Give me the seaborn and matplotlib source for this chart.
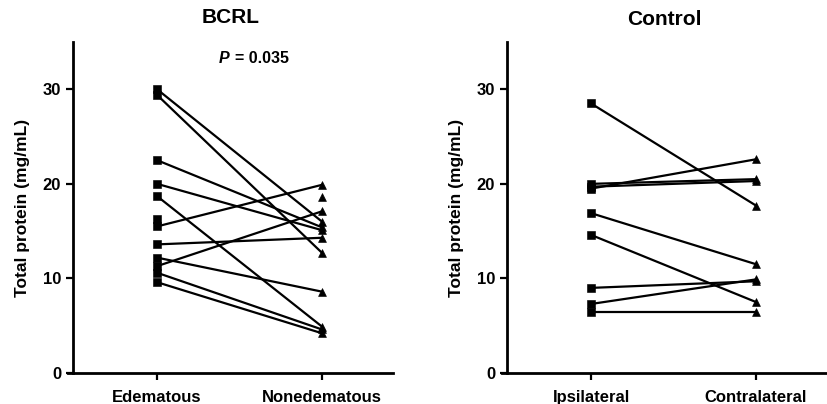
import pandas as pd
import numpy as np
import matplotlib.pyplot as plt
import seaborn as sns

# DATA
bcrl_labels = ["Edematous", "Nonedematous"]
bcrl_edem = [30.0, 29.4, 22.5, 20.0, 18.7, 15.5, 13.6, 12.2, 11.3, 10.6, 9.6]
bcrl_nonedem = [16.0, 12.7, 15.4, 15.1, 4.9, 19.9, 14.3, 8.6, 17.1, 4.6, 4.2]
bcrl_edem_only = [16.3]       # square without a partner
bcrl_nonedem_only = [18.6]    # triangle without a partner

ctrl_labels = ["Ipsilateral", "Contralateral"]
ctrl_ipsi = [28.5, 20.0, 19.7, 19.5, 16.9, 14.6, 9.0, 7.3, 6.5]
ctrl_contra = [17.7, 20.5, 20.3, 22.6, 11.5, 7.5, 9.7, 9.9, 6.5]

p_text = "= 0.035"


def long_table(a, b):
    rows = []
    for i, (v1, v2) in enumerate(zip(a, b)):
        rows.append({"pair": i, "cond": 0, "val": v1})
        rows.append({"pair": i, "cond": 1, "val": v2})
    return pd.DataFrame(rows)


sns.set_style("ticks", {"text.color": "black", "axes.labelcolor": "black",
                        "xtick.color": "black", "ytick.color": "black",
                        "axes.edgecolor": "black"})
plt.rcParams['font.family'] = ['Liberation Sans', 'DejaVu Sans']

fig = plt.figure(figsize=(8.28, 4.04), dpi=100)
ax1 = fig.add_axes([68 / 828, 31 / 404, 325 / 828, 331 / 404])
ax2 = fig.add_axes([502 / 828, 31 / 404, 325 / 828, 331 / 404])


def draw(ax, a, b, labels, only_a=(), only_b=()):
    df = long_table(a, b)
    sns.lineplot(data=df, x="cond", y="val", units="pair", estimator=None,
                 color="black", lw=1.6, ax=ax, legend=False)
    pts_a = list(a) + list(only_a)
    pts_b = list(b) + list(only_b)
    sns.scatterplot(x=[0] * len(pts_a), y=pts_a, marker="s", s=28,
                    color="black", edgecolor="black", ax=ax, zorder=3)
    sns.scatterplot(x=[1] * len(pts_b), y=pts_b, marker="^", s=32,
                    color="black", edgecolor="black", ax=ax, zorder=3)
    ax.set_xlim(-0.54, 1.43)
    ax.set_ylim(0, 35)
    ax.spines['left'].set_position(('data', -0.51))
    ax.spines['left'].set_linewidth(2)
    ax.spines['bottom'].set_linewidth(2)
    ax.spines['left'].set_bounds(0, 35)
    sns.despine(ax=ax)
    ax.set_yticks([0, 10, 20, 30])
    ax.set_xticks([0, 1])
    ax.set_xticklabels(labels)
    ax.tick_params(axis='both', width=1.6, length=5, labelsize=12, colors="black")
    ax.tick_params(axis='x', pad=7)
    for t in ax.get_xticklabels() + ax.get_yticklabels():
        t.set_fontweight('bold')
    ax.set_xlabel("")
    ax.set_ylabel("Total protein (mg/mL)", fontsize=12.5, fontweight='bold',
                  labelpad=9, color="black")


draw(ax1, bcrl_edem, bcrl_nonedem, bcrl_labels, bcrl_edem_only, bcrl_nonedem_only)
draw(ax2, ctrl_ipsi, ctrl_contra, ctrl_labels)

ax1.set_title("BCRL", fontsize=15, fontweight='bold', pad=14, color="black")
ax2.set_title("Control", fontsize=15, fontweight='bold', pad=12, color="black")
ax1.text(0.44, 33.3, "P", style='italic', fontweight='bold', fontsize=11.5,
         ha='right', va='center', color="black")
ax1.text(0.47, 33.3, p_text, fontweight='bold', fontsize=11.5,
         ha='left', va='center', color="black")

plt.savefig("out.png", dpi=100)
